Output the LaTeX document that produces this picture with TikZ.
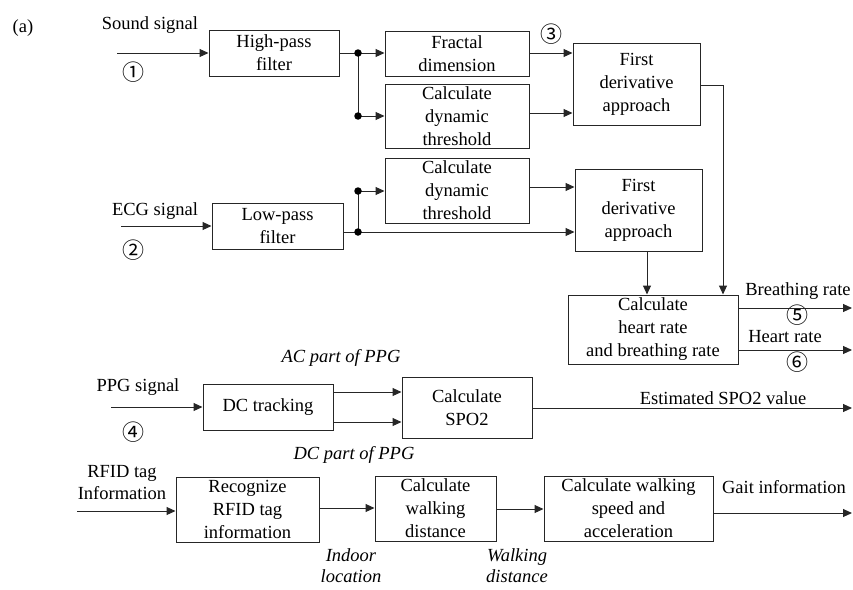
\documentclass[tikz,border=0pt]{standalone}
\usepackage{fontspec}
\setmainfont{Liberation Serif}
\newfontfamily\circfont{Noto Sans CJK SC}
\usetikzlibrary{arrows.meta}
\tikzset{
  box/.style={draw=black!85, line width=1pt, align=center, inner sep=0pt, font=\fontsize{18.5}{23}\selectfont},
  lbl/.style={inner sep=0pt, align=center, font=\fontsize{18.5}{22}\selectfont},
  ilbl/.style={inner sep=0pt, align=center, font=\fontsize{18.5}{21}\selectfont\itshape},
  num/.style={inner sep=0pt, font=\fontsize{22}{24}\selectfont\circfont},
  con/.style={draw=black!85, line width=1pt},
  arr/.style={con, -{Triangle[length=9pt,width=8pt]}},
  dot/.style={circle, fill=black, inner sep=0pt, minimum size=7.5pt}
}
\begin{document}
\begin{tikzpicture}[x=1pt,y=-1pt]
\useasboundingbox (0,0) rectangle (853,589);
% boxes
\node[box, minimum width=130pt, minimum height=46pt] (hp) at (274,53) {High-pass\\filter};
\node[box, minimum width=144pt, minimum height=45pt] (fd) at (457,53.5) {Fractal\\dimension};
\node[box, minimum width=144pt, minimum height=64pt] (th1) at (457,116) {Calculate\\dynamic\\threshold};
\node[box, minimum width=127pt, minimum height=82pt] (fda) at (636.5,84) {First\\derivative\\approach};
\node[box, minimum width=144pt, minimum height=65pt] (th2) at (457,190.5) {Calculate\\dynamic\\threshold};
\node[box, minimum width=131pt, minimum height=46pt] (lp) at (277.5,226) {Low-pass\\filter};
\node[box, minimum width=127pt, minimum height=82pt] (fdb) at (638.5,210) {First\\derivative\\approach};
\node[box, minimum width=170pt, minimum height=69pt] (hr) at (653,329.5) {Calculate\\heart rate\\and breathing rate};
\node[box, minimum width=130pt, minimum height=46pt] (dc) at (268,407) {DC tracking};
\node[box, minimum width=130pt, minimum height=61pt] (spo) at (467,407.5) {Calculate\\SPO2};
\node[box, minimum width=143pt, minimum height=65pt] (rec) at (247.5,509.5) {Recognize\\RFID tag\\information};
\node[box, minimum width=121pt, minimum height=65pt] (cwd) at (435.5,508.5) {Calculate\\walking\\distance};
\node[box, minimum width=169pt, minimum height=65pt] (cws) at (628.5,508.5) {Calculate walking\\speed and\\acceleration};
% labels
\node[lbl] (la) at (23,28) {(a)};
\node[lbl] (lsound) at (150,25) {Sound signal};
\node[num] (n1) at (133,72) {①};
\node[num] (n3) at (551,34) {③};
\node[lbl] (lecg) at (155,211) {ECG signal};
\node[num] (n2) at (133,250) {②};
\node[lbl] (lbr) at (798,291) {Breathing rate};
\node[num] (n5) at (797,315) {⑤};
\node[lbl] (lhr) at (785,337) {Heart rate};
\node[num] (n6) at (797,362) {⑥};
\node[ilbl] (lac) at (341,358) {AC part of PPG};
\node[lbl] (lppg) at (138,387) {PPG signal};
\node[num] (n4) at (133,432) {④};
\node[lbl] (lspo) at (723,398) {Estimated SPO2 value};
\node[ilbl] (ldc) at (354,455) {DC part of PPG};
\node[lbl] (lrfid) at (122,483) {RFID tag\\Information};
\node[ilbl] (lin) at (351,566) {Indoor\\location};
\node[ilbl] (lwd) at (517,566) {Walking\\distance};
\node[lbl] (lgait) at (784,487) {Gait information};
% coordinates
\coordinate (i1) at (117,53);
\coordinate (d1) at (358,53);
\coordinate (d2) at (358,116);
\coordinate (rc) at (723,85);
\coordinate (i2) at (121,226);
\coordinate (lpo) at (343,232);
\coordinate (d3) at (358,232);
\coordinate (d4) at (358,191);
\coordinate (fdbs) at (647,251);
\coordinate (o1) at (852,308);
\coordinate (o2) at (852,350);
\coordinate (i4) at (111,407);
\coordinate (dca) at (333,392);
\coordinate (dcb) at (333,422);
\coordinate (o3) at (852,408);
\coordinate (i5) at (77,511);
\coordinate (reco) at (319,508);
\coordinate (cwdo) at (496,509);
\coordinate (o4) at (852,513);
% sound path
\draw[arr] (i1) -- (i1 -| hp.west);
\draw[arr] (hp.east |- d1) -- (d1 -| fd.west);
\draw[con] (d1) -- (d2);
\draw[arr] (d2) -- (d2 -| th1.west);
\node[dot] at (d1) {};
\node[dot] at (d2) {};
\draw[arr] (fd.east |- d1) -- (d1 -| fda.west);
\draw[arr] (th1.east |- 0,113) -- (fda.west |- 0,113);
\draw[arr] (fda.east |- rc) -- (rc) -- (rc |- hr.north);
% ECG path
\draw[arr] (i2) -- (i2 -| lp.west);
\draw[arr] (lpo) -- (lpo -| fdb.west);
\draw[con] (d3) -- (d4);
\draw[arr] (d4) -- (d4 -| th2.west);
\node[dot] at (d3) {};
\node[dot] at (d4) {};
\draw[arr] (th2.east |- 0,187) -- (fdb.west |- 0,187);
\draw[arr] (fdbs) -- (fdbs |- hr.north);
\draw[arr] (o1 -| hr.east) -- (o1);
\draw[arr] (o2 -| hr.east) -- (o2);
% PPG path
\draw[arr] (i4) -- (i4 -| dc.west);
\draw[arr] (dca) -- (dca -| spo.west);
\draw[arr] (dcb) -- (dcb -| spo.west);
\draw[arr] (o3 -| spo.east) -- (o3);
% RFID path
\draw[arr] (i5) -- (i5 -| rec.west);
\draw[arr] (reco) -- (reco -| cwd.west);
\draw[arr] (cwdo) -- (cwdo -| cws.west);
\draw[arr] (o4 -| cws.east) -- (o4);
\end{tikzpicture}
\end{document}
